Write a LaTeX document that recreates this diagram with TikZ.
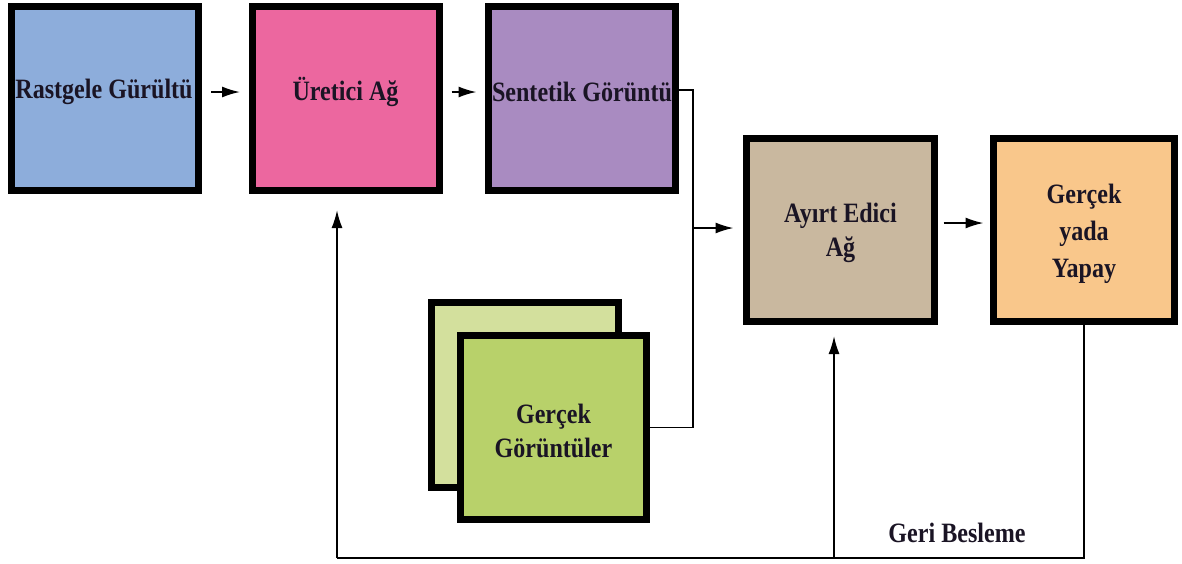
\documentclass[tikz,border=0pt]{standalone}
\usepackage{fontspec}
\setmainfont{Liberation Serif}[FakeStretch=0.86]
\usetikzlibrary{arrows.meta,calc}
\definecolor{cblue}{HTML}{8DADDB}
\definecolor{cpink}{HTML}{EC679F}
\definecolor{cpurple}{HTML}{A98BC1}
\definecolor{ctan}{HTML}{C9B89F}
\definecolor{corange}{HTML}{F9C78B}
\definecolor{clgreen}{HTML}{D3E09D}
\definecolor{cgreen}{HTML}{B8D16A}
\definecolor{ctext}{HTML}{1A1424}
\begin{document}
\begin{tikzpicture}[x=1pt,y=-1pt,
  box/.style={draw=black,line width=7pt,minimum width=187pt,minimum height=184pt,inner sep=0pt},
  conn/.style={draw=black,line width=1.8pt},
  arr/.style={conn,-{Latex[length=18pt,width=11pt]}},
  lbl/.style={align=center,inner sep=0pt,font=\fontsize{28}{34}\selectfont\bfseries,text=ctext}]
\fill[white] (0,0) rectangle (1182,563);
\useasboundingbox (0,0) rectangle (1182,563);
\node[box,fill=cblue] (b1) at (105,98.5) {};
\node[box,fill=cpink] (b2) at (345.5,98.5) {};
\node[box,fill=cpurple] (b3) at (582,98.5) {};
\node[box,fill=ctan,minimum width=188pt,minimum height=183pt] (b4) at (840.5,230) {};
\node[box,fill=corange,minimum width=181pt,minimum height=183pt] (b5) at (1084,230) {};
\node[box,fill=clgreen,minimum height=185pt] (g1) at (525,395) {};
\node[box,fill=cgreen,minimum width=186pt,minimum height=184pt] (g2) at (553.5,427.5) {};
\node[lbl] (t1) at (104,92) {Rastgele Gürültü};
\node[lbl] (t2) at (345.5,92) {Üretici Ağ};
\node[lbl] (t3) at (582,92) {Sentetik Görüntü};
\node[lbl] (t4) at (840.5,233) {Ayırt Edici\\Ağ};
\node[lbl,font=\fontsize{28}{37}\selectfont\bfseries] (t5) at (1084,234) {Gerçek\\yada\\Yapay};
\node[lbl] (t6) at (553.5,431) {Gerçek\\Görüntüler};
\coordinate (j) at (693,228);
\coordinate (c1) at (337,558);
\coordinate (c2) at (834,558);
\draw[arr,shorten <=9pt,shorten >=8.5pt] ([yshift=6.5pt]b1.east) -- ([yshift=6.5pt]b2.west);
\draw[arr,shorten <=9pt,shorten >=8.5pt] ([yshift=6.5pt]b2.east) -- ([yshift=6.5pt]b3.west);
\draw[conn] ([yshift=8.5pt]b3.east) -| (j) |- (g2.east);
\draw[arr,shorten >=9.5pt] (j) -- (j -| b4.west);
\draw[arr,shorten <=5.5pt,shorten >=6.5pt] ([yshift=7pt]b4.east) -- ([yshift=7pt]b5.west);
\draw[conn] (b5.south) |- (c1);
\draw[arr,shorten >=16pt] (c1) -- (c1 |- b2.south);
\draw[arr,shorten >=11pt] (c2) -- (c2 |- b4.south);
\node[lbl] (fbl) at (957,533) {Geri Besleme};
\end{tikzpicture}
\end{document}
